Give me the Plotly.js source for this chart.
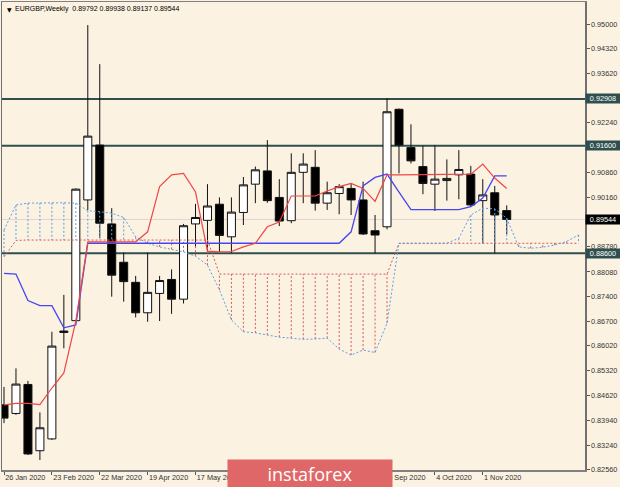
<!DOCTYPE html>
<html><head><meta charset="utf-8">
<script src="https://cdn.plot.ly/plotly-3.0.1.min.js"></script>
<style>html,body{margin:0;padding:0;background:#fbf2e2;}#chart{width:620px;height:487px;}</style>
</head><body><div id="chart"></div>
<script>
const symbolName = 'EURGBP,Weekly';
const barDates = ['2020-01-26','2020-02-02','2020-02-09','2020-02-16','2020-02-23','2020-03-01','2020-03-08','2020-03-15','2020-03-22','2020-03-29',
  '2020-04-05','2020-04-12','2020-04-19','2020-04-26','2020-05-03','2020-05-10','2020-05-17','2020-05-24','2020-05-31','2020-06-07',
  '2020-06-14','2020-06-21','2020-06-28','2020-07-05','2020-07-12','2020-07-19','2020-07-26','2020-08-02','2020-08-09','2020-08-16',
  '2020-08-23','2020-08-30','2020-09-06','2020-09-13','2020-09-20','2020-09-27','2020-10-04','2020-10-11','2020-10-18','2020-10-25',
  '2020-11-01','2020-11-08','2020-11-15'];
const futureDates = ['2020-11-22','2020-11-29','2020-12-06','2020-12-13','2020-12-20','2020-12-27'];
const open  = [0.8437,0.8413,0.8494,0.8309,0.8342,0.8639,0.8672,0.9009,0.9162,0.8942,0.8835,0.8779,0.8694,0.8748,0.8787,0.8732,0.8942,0.8952,0.8997,0.8906,0.8974,0.9053,0.9090,0.9016,0.8951,0.9086,0.9100,0.9000,0.9027,0.9041,0.9009,0.8923,0.8934,0.9262,0.9155,0.9102,0.9053,0.9063,0.9079,0.9081,0.9007,0.9029,0.89792];
const high  = [0.8487,0.8539,0.8504,0.8416,0.8641,0.8744,0.9041,0.9497,0.9388,0.8986,0.8862,0.8797,0.8862,0.8797,0.8815,0.8942,0.8998,0.9053,0.9016,0.9016,0.9073,0.9102,0.9176,0.9067,0.9139,0.9139,0.9148,0.9060,0.9053,0.9055,0.9060,0.8967,0.9293,0.9264,0.9220,0.9160,0.9162,0.9122,0.9148,0.9104,0.9067,0.9048,0.89938];
const low   = [0.8386,0.8409,0.8297,0.8283,0.8339,0.8595,0.8670,0.8981,0.8902,0.8739,0.8725,0.8681,0.8669,0.8671,0.8691,0.8720,0.8878,0.8864,0.8864,0.8861,0.8939,0.9000,0.9001,0.8936,0.8944,0.9000,0.8979,0.8981,0.8969,0.8967,0.8911,0.8860,0.8927,0.9083,0.9111,0.9025,0.8978,0.9007,0.9011,0.8990,0.8888,0.8860,0.89137];
const close = [0.8400,0.8495,0.8300,0.8373,0.8601,0.8643,0.9039,0.9187,0.8944,0.8799,0.8781,0.8694,0.8751,0.8784,0.8732,0.8937,0.8960,0.8992,0.8910,0.8975,0.9051,0.9093,0.9007,0.8950,0.9086,0.9109,0.9000,0.9029,0.9046,0.9009,0.8914,0.8911,0.9255,0.9162,0.9118,0.9055,0.9067,0.9069,0.9094,0.8995,0.9023,0.8967,0.89544];
const tenkan = [0.8437,0.8441,0.8441,0.8438,0.8484,0.8526,0.8671,0.8892,0.8892,0.8892,0.8892,0.8892,0.8920,0.9046,0.9079,0.9083,0.9031,0.8866,0.8864,0.8865,0.8878,0.8888,0.8934,0.8947,0.9020,0.9020,0.9020,0.9034,0.9046,0.9055,0.9041,0.9005,0.9079,0.9079,0.9079,0.9079,0.9079,0.9079,0.9079,0.9081,0.9109,0.9070,0.9041];
const kijun  = [0.8804,0.8802,0.8728,0.8714,0.8714,0.8652,0.8660,0.8888,0.8888,0.8888,0.8888,0.8888,0.8888,0.8888,0.8888,0.8888,0.8888,0.8888,0.8888,0.8888,0.8888,0.8888,0.8888,0.8888,0.8888,0.8888,0.8888,0.8888,0.8888,0.8920,0.9048,0.9072,0.9081,0.9031,0.8982,0.8982,0.8982,0.8982,0.8982,0.8990,0.9014,0.9076,0.9076];
const spanA  = [0.8925,0.8995,0.9000,0.9001,0.9001,0.9001,0.9000,0.8979,0.8976,0.8972,0.8960,0.8906,0.8888,0.8878,0.8871,0.8864,0.8852,0.8827,0.8758,0.8674,0.8641,0.8638,0.8632,0.8626,0.8623,0.8620,0.8621,0.8623,0.8593,0.8576,0.8590,0.8583,0.8665,0.8888,0.8888,0.8888,0.8888,0.8888,0.8902,0.8967,0.8986,0.8984,0.8958,0.8878,0.8874,0.8877,0.8883,0.8893,0.8911];
const spanB  = [0.8850,0.8896,0.8897,0.8897,0.8897,0.8897,0.8897,0.8897,0.8897,0.8897,0.8897,0.8897,0.8897,0.8897,0.8897,0.8897,0.8897,0.8897,0.8802,0.8802,0.8802,0.8802,0.8802,0.8802,0.8802,0.8802,0.8802,0.8802,0.8802,0.8802,0.8802,0.8802,0.8802,0.8888,0.8888,0.8888,0.8888,0.8888,0.8888,0.8888,0.8888,0.8888,0.8888,0.8888,0.8888,0.8888,0.8888,0.8888,0.8888];
const levels = [0.92908, 0.91600, 0.88600];
const yTicks = [0.95000,0.94320,0.93620,0.92240,0.90860,0.90160,0.88780,0.88080,0.87400,0.86700,0.86020,0.85320,0.84620,0.83940,0.83240,0.82560];
const xTickDates = ['2020-01-26','2020-02-23','2020-03-22','2020-04-19','2020-05-17','2020-06-14','2020-07-12','2020-08-09','2020-09-06','2020-10-04','2020-11-01'];
// labels hidden under the watermark in the reference are left blank
const xTickLabels = ['26 Jan 2020','23 Feb 2020','22 Mar 2020','19 Apr 2020','17 May 2020','','','','6 Sep 2020','4 Oct 2020','1 Nov 2020'];

const BG = '#fbf2e2';
const allDates = barDates.concat(futureDates);
const n = barDates.length;
const lastClose = close[n-1];
const week = 7*864e5;
const t0 = Date.parse(barDates[0] + 'T00:00:00Z');
const xr = [t0 - 0.167*week, t0 + 48.54*week];

const hx = {b:[], r:[]}, hy = {b:[], r:[]};
allDates.forEach((d,i) => {
  const k = spanA[i] >= spanB[i] ? 'b' : 'r';
  hx[k].push(d, d, null); hy[k].push(spanA[i], spanB[i], null);
});
const BLUE_D = '#5c9fe4', RED_D = '#cf5c5c';
const traces = [
  {type:'scatter', mode:'lines', x:hx.b, y:hy.b, line:{color:BLUE_D, width:1, dash:'2px,2px'}, hoverinfo:'skip'},
  {type:'scatter', mode:'lines', x:hx.r, y:hy.r, line:{color:RED_D, width:1, dash:'2px,2px'}, hoverinfo:'skip'},
  {type:'scatter', mode:'lines', x:allDates, y:spanB, line:{color:RED_D, width:1, dash:'2px,2px'}, hoverinfo:'skip'},
  {type:'scatter', mode:'lines', x:allDates, y:spanA, line:{color:BLUE_D, width:1, dash:'2px,2px'}, hoverinfo:'skip'},
  {type:'scatter', mode:'lines', x:barDates, y:kijun, line:{color:'#4646f0', width:1.3}, hoverinfo:'skip'},
  {type:'scatter', mode:'lines', x:barDates, y:tenkan, line:{color:'#f04646', width:1.2}, hoverinfo:'skip'},
  {type:'candlestick', x:barDates, open:open, high:high, low:low, close:close, whiskerwidth:0,
   increasing:{line:{color:'#111', width:1}, fillcolor:'#ffffff'},
   decreasing:{line:{color:'#111', width:1}, fillcolor:'#000000'}, hoverinfo:'skip'}
];

const shapes = levels.map(v => ({type:'line', xref:'paper', x0:0, x1:1, yref:'y', y0:v, y1:v, layer:'below', line:{color:'#2f4f4f', width:2}}));
shapes.push({type:'line', xref:'paper', x0:0, x1:1, yref:'y', y0:lastClose, y1:lastClose, layer:'below', line:{color:'#e0d4d8', width:1}});

const tickFont = {family:'Liberation Sans, Arial, sans-serif', size:7.3, color:'#333'};
const annotations = levels.map(v => ({xref:'paper', yref:'y', x:1, y:v, xanchor:'left', yanchor:'middle', text:v.toFixed(5), showarrow:false,
  bgcolor:'#2f4f4f', font:{family:tickFont.family, size:7.3, color:'#ffffff'}, width:34, height:9, borderpad:0}));
annotations.push({xref:'paper', yref:'y', x:1, y:lastClose, xanchor:'left', yanchor:'middle', text:lastClose.toFixed(5), showarrow:false,
  bgcolor:'#000000', font:{family:tickFont.family, size:7.3, color:'#ffffff'}, width:34, height:9, borderpad:0});
annotations.push({xref:'paper', yref:'paper', x:0.005, y:0.985, xanchor:'left', yanchor:'middle', showarrow:false,
  text:'▼', font:{family:'DejaVu Sans', size:6, color:'#000'}});
annotations.push({xref:'paper', yref:'paper', x:0.019, y:0.985, xanchor:'left', yanchor:'middle', showarrow:false,
  text: symbolName + '  ' + [open[n-1], high[n-1], low[n-1], close[n-1]].map(v=>v.toFixed(5)).join(' '),
  font:{family:tickFont.family, size:7, color:'#000'}});
annotations.push({xref:'paper', yref:'paper', x:0.5283, y:-0.0075, xanchor:'center', yanchor:'middle', showarrow:false,
  text:'instaforex', bgcolor:'#e06767', width:164, height:27, borderpad:0,
  font:{family:'Open Sans, sans-serif', size:18, color:'#ffffff'}});

const layout = {
  width:620, height:487, margin:{l:2, r:35, t:2, b:17},
  paper_bgcolor:BG, plot_bgcolor:BG, showlegend:false, boxgap:0.33, boxgroupgap:0,
  xaxis:{type:'date', range:xr, tickvals:xTickDates, ticktext:xTickLabels, ticks:'outside', ticklen:3, tickcolor:'#555', tickangle:0,
    ticklabelposition:'outside right', showgrid:false, zeroline:false, showline:true, linecolor:'#808080', linewidth:1.5, mirror:true,
    tickfont:tickFont, rangeslider:{visible:false}, fixedrange:true},
  yaxis:{side:'right', range:[0.82552, 0.95614], tickvals:yTicks, ticktext:yTicks.map(v=>v.toFixed(5)), ticks:'outside', ticklen:3, tickcolor:'#555',
    showgrid:false, zeroline:false, showline:true, linecolor:'#707070', linewidth:1.5, mirror:true, tickfont:tickFont, fixedrange:true},
  shapes:shapes, annotations:annotations
};
Plotly.newPlot('chart', traces, layout, {staticPlot:true, displayModeBar:false});
</script>
</body></html>
